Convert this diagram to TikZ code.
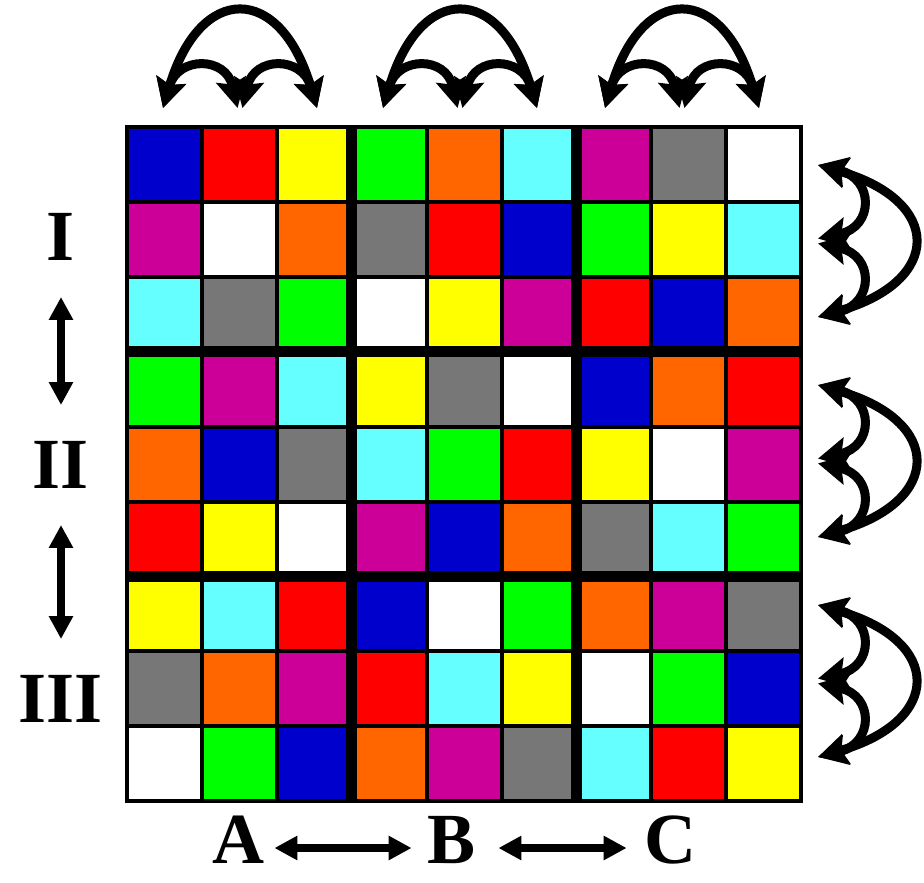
\documentclass[tikz,border=0pt]{standalone}
\usepackage{fontspec}
\setmainfont{Liberation Serif}[BoldFont={Liberation Serif Bold}]
\usetikzlibrary{arrows.meta}
\definecolor{cellb}{HTML}{0000CC}
\definecolor{cellr}{HTML}{FF0000}
\definecolor{celly}{HTML}{FFFF00}
\definecolor{cellg}{HTML}{00FF00}
\definecolor{cello}{HTML}{FF6600}
\definecolor{cellc}{HTML}{66FFFF}
\definecolor{cellm}{HTML}{CC0099}
\definecolor{cellk}{HTML}{777777}
\definecolor{cellw}{HTML}{FFFFFF}

\begin{document}
\begin{tikzpicture}[
  x=0.5pt, y=-0.5pt,
  blocklabel/.style={font=\fontsize{36}{38}\selectfont\bfseries, inner sep=1pt},
  cellline/.style={line width=2pt, draw=black},
  blockline/.style={line width=5.5pt, draw=black},
  swaparrow/.style={line width=4.5pt, line cap=round,
    {Stealth[length=14.5pt,width=15pt,inset=2.5pt]}-{Stealth[length=14.5pt,width=15pt,inset=2.5pt]}},
  movearrow/.style={line width=4pt,
    {Triangle[length=11.5pt,width=11.5pt]}-{Triangle[length=11.5pt,width=11.5pt]}},
]
\useasboundingbox (0,0) rectangle (924,882);

% ---- the 9x9 colour grid -------------------------------------------------
\foreach \row [count=\r] in {
  {b,r,y,g,o,c,m,k,w}, {m,w,o,k,r,b,g,y,c}, {c,k,g,w,y,m,r,b,o},
  {g,m,c,y,k,w,b,o,r}, {o,b,k,c,g,r,y,w,m}, {r,y,w,m,b,o,k,c,g},
  {y,c,r,b,w,g,o,m,k}, {k,o,m,r,c,y,w,g,b}, {w,g,b,o,m,k,c,r,y}}
  \foreach \c [count=\k] in \row
    \fill[fill=cell\c] ({127+74.9*(\k-1)},{127+74.9*(\r-1)})
      rectangle ++(74.9,74.9);

\foreach \i in {1,...,8} {
  \draw[cellline] ({127+74.9*\i},127) -- ++(0,674.1);
  \draw[cellline] (127,{127+74.9*\i}) -- ++(674.1,0);
}
\foreach \i in {3,6} {
  \draw[blockline] ({127+74.9*\i},127) -- ++(0,674.1);
  \draw[blockline] (127,{127+74.9*\i}) -- ++(674.1,0);
}
\draw[cellline] (127,127) rectangle (801.1,801.1);

% ---- swaps of columns inside each block (top) ----------------------------
\foreach \cx [count=\g] in {240,460,682} {
  \coordinate (top\g l) at (\cx-77,108);
  \coordinate (top\g m) at (\cx,108);
  \coordinate (top\g r) at (\cx+77,108);
  \draw[swaparrow] (top\g l) .. controls +(37,-125) and +(-37,-125) .. (top\g r);
  \draw[swaparrow] (top\g l) .. controls +(15,-52) and +(-12,-52)
    .. ([xshift=-1.2pt]top\g m);
  \draw[swaparrow] ([xshift=1.2pt]top\g m) .. controls +(12,-52) and +(-15,-52)
    .. (top\g r);
}

% ---- swaps of rows inside each block (right) -----------------------------
\foreach \cy [count=\g] in {241,461,681} {
  \coordinate (side\g t) at (818,\cy-76);
  \coordinate (side\g m) at (818,\cy);
  \coordinate (side\g b) at (818,\cy+76);
  \draw[swaparrow] (side\g t) .. controls +(125,36) and +(125,-36) .. (side\g b);
  \draw[swaparrow] (side\g t) .. controls +(56,14) and +(56,-12)
    .. ([yshift=1.2pt]side\g m);
  \draw[swaparrow] ([yshift=-1.2pt]side\g m) .. controls +(56,12) and +(56,-14)
    .. (side\g b);
}

% ---- block labels ----------------------------------------------------------
\node[blocklabel] (lblI)   at (61,237) {I};
\node[blocklabel] (lblII)  at (61,465) {II};
\node[blocklabel] (lblIII) at (61,699) {III};
\node[blocklabel] (lblA) at (238,840) {A};
\node[blocklabel] (lblB) at (452,840) {B};
\node[blocklabel] (lblC) at (670,840) {C};

\draw[movearrow, shorten <=17pt, shorten >=17pt] (lblI) -- (lblII);
\draw[movearrow, shorten <=17pt, shorten >=17pt] (lblII) -- (lblIII);
\draw[movearrow, shorten <=4pt, shorten >=7pt]
  ([yshift=-4pt]lblA.east) -- ([yshift=-4pt]lblB.west);
\draw[movearrow, shorten <=10pt, shorten >=7.5pt]
  ([yshift=-4pt]lblB.east) -- ([yshift=-4pt]lblC.west);

\end{tikzpicture}
\end{document}
